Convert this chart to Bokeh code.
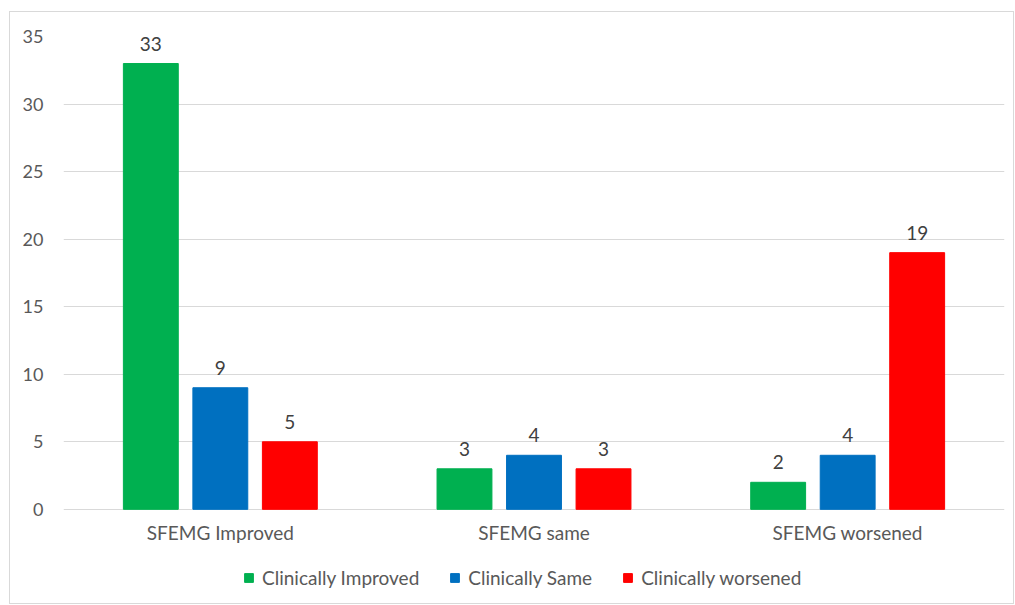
from bokeh.plotting import figure
from bokeh.models import ColumnDataSource, Legend, LegendItem, FixedTicker, Range1d
from bokeh.transform import dodge
from bokeh.core.properties import value
from bokeh.embed import file_html
from bokeh.resources import INLINE

categories = ["SFEMG Improved", "SFEMG same", "SFEMG worsened"]
series_names = ["Clinically Improved", "Clinically Same", "Clinically worsened"]
clin_improved = [33, 3, 2]
clin_same = [9, 4, 4]
clin_worsened = [5, 3, 19]
y_ticks = [0, 5, 10, 15, 20, 25, 30, 35]

colors = ["#00B050", "#0070C0", "#FF0000"]
FONT = "Lato"
TXT = "#595959"
FS = "19px"

# layout (pixels): value axis 0..35 spans 472 px; 96 px of room below zero for labels + legend
PX_PER_UNIT = 472 / 35.0
Y_LOW = -96 / PX_PER_UNIT

src = ColumnDataSource(dict(
    cat=categories,
    s0=clin_improved, s1=clin_same, s2=clin_worsened,
    l0=[str(v) for v in clin_improved],
    l1=[str(v) for v in clin_same],
    l2=[str(v) for v in clin_worsened],
    zero=[0, 0, 0],
))

p = figure(x_range=categories, y_range=Range1d(Y_LOW, 35),
           width=1005, height=593, output_backend="svg", toolbar_location=None,
           min_border_left=53, min_border_right=11, min_border_top=24, min_border_bottom=0,
           margin=(11, 0, 0, 9))
p.styles = {"border": "1px solid #d9d9d9"}
p.outline_line_color = None
p.background_fill_color = "white"
p.border_fill_color = "white"
p.x_range.range_padding = 0.0

offsets = [-0.2216, 0.0, 0.2216]
items = []
for i, (off, col) in enumerate(zip(offsets, colors)):
    r = p.vbar(x=dodge("cat", off, range=p.x_range), top=f"s{i}", width=0.175,
               source=src, fill_color=col, line_color=col)
    p.text(x=dodge("cat", off, range=p.x_range), y=f"s{i}", text=f"l{i}", source=src,
           text_align="center", text_baseline="bottom", y_offset=-13,
           text_font=value(FONT), text_font_size=FS, text_color="#404040")
    items.append(LegendItem(label=series_names[i], renderers=[r]))

# category labels under the zero line
p.text(x="cat", y="zero", text="cat", source=src, text_align="center",
       text_baseline="middle", y_offset=23, text_font=value(FONT),
       text_font_size=FS, text_color=TXT)

p.yaxis.ticker = FixedTicker(ticks=y_ticks)
p.ygrid.ticker = FixedTicker(ticks=y_ticks)
p.ygrid.grid_line_color = "#d9d9d9"
p.xgrid.grid_line_color = None
p.yaxis.axis_line_color = None
p.yaxis.major_tick_line_color = None
p.yaxis.minor_tick_line_color = None
p.yaxis.major_label_standoff = 14
p.yaxis.major_label_text_font = FONT
p.yaxis.major_label_text_font_size = "18px"
p.yaxis.major_label_text_color = TXT
p.xaxis.visible = False

legend = Legend(items=items, orientation="horizontal", location=(180, 16),
                glyph_width=11, glyph_height=11, label_standoff=8, spacing=30,
                label_text_font=FONT, label_text_font_size=FS, label_text_color=TXT,
                border_line_color=None, background_fill_alpha=0, padding=0, margin=0)
p.add_layout(legend, "center")

open("out.html", "w").write(file_html(p, INLINE))
